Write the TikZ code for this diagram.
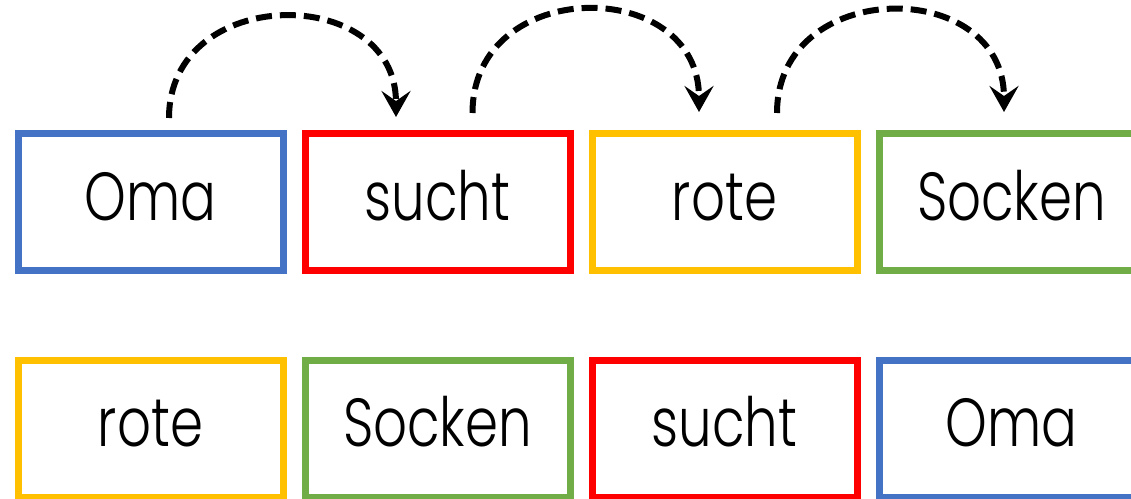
\documentclass[tikz,border=0pt]{standalone}
\usepackage{fontspec}
\setmainfont{Poppins Light}[FakeStretch=0.78]
\usetikzlibrary{arrows.meta,calc}
\definecolor{cblue}{HTML}{4472C4}
\definecolor{cred}{HTML}{FF0000}
\definecolor{cyellow}{HTML}{FFC000}
\definecolor{cgreen}{HTML}{70AD47}
\tikzset{
  word/.style={draw=#1, line width=7pt, rectangle, minimum width=265pt, minimum height=137pt,
    inner sep=0pt, text height=50pt, text depth=14pt, font=\fontsize{68}{70}\selectfont},
  jump/.style={line width=6pt, dash pattern=on 16pt off 8pt,
    -{Stealth[length=26pt,width=29pt,inset=10pt]}}
}
\begin{document}
\begin{tikzpicture}[x=1pt,y=-1pt]
\path[use as bounding box] (0,0) rectangle (1131,498);
\fill[white] (0,0) rectangle (1131,498);
\clip (0,0) rectangle (1131,498);
% row 1
\node[word=cblue]   (a1) at (150.5,202) {Oma};
\node[word=cred]    (a2) at (437.5,202) {sucht};
\node[word=cyellow] (a3) at (724.5,202) {rote};
\node[word=cgreen]  (a4) at (1011.5,202) {Socken};
% row 2
\node[word=cyellow] (b1) at (150.5,428.5) {rote};
\node[word=cgreen]  (b2) at (437.5,428.5) {Socken};
\node[word=cred]    (b3) at (724.5,428.5) {sucht};
\node[word=cblue]   (b4) at (1011.5,428.5) {Oma};
% arrow ends
\coordinate (s1) at ($(a1.north)+(18.5,-12)$);
\coordinate (t1) at ($(a2.north)+(-41.5,-13)$);
\coordinate (s2) at ($(a2.north)+(35,-17)$);
\coordinate (t2) at ($(a3.north)+(-25.5,-18)$);
\coordinate (s3) at ($(a3.north)+(52.5,-17)$);
\coordinate (t3) at ($(a4.north)+(-7.5,-18)$);
\draw[jump] (s1) .. controls +(0,-134) and +(0,-134) .. (t1);
\draw[jump] (s2) .. controls +(0,-137) and +(0,-137) .. (t2);
\draw[jump] (s3) .. controls +(0,-136) and +(0,-136) .. (t3);
\end{tikzpicture}
\end{document}
